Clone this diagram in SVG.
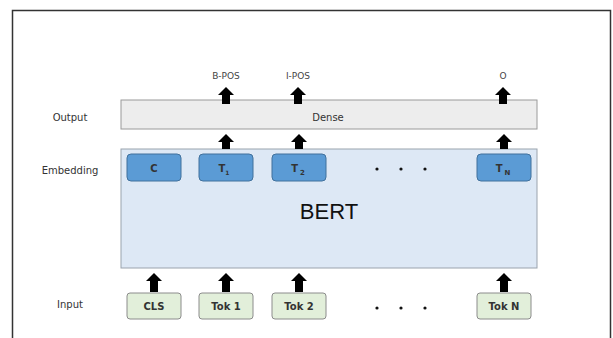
<svg xmlns="http://www.w3.org/2000/svg" width="613" height="338" viewBox="0 0 613 338">
<style>
.lbl{font-family:"DejaVu Sans","Noto Sans",sans-serif;font-size:10px;fill:#333;text-anchor:middle}
.sm{font-family:"DejaVu Sans","Noto Sans",sans-serif;font-size:9px;fill:#444;text-anchor:middle}
.emb{fill:#5b9bd5;stroke:#41719c;stroke-width:1}
.inp{fill:#e2efda;stroke:#8c8c8c;stroke-width:1}
.tk{font-family:"DejaVu Sans","Noto Sans",sans-serif;font-size:10px;fill:#333;text-anchor:middle;font-weight:bold}
.ar{fill:#000}
.dot{fill:#111}
</style>
<rect x="0" y="0" width="613" height="338" fill="#fff"/>
<rect x="12.5" y="10.5" width="598" height="340" fill="#fff" stroke="#333" stroke-width="1.5"/>
<g id="side-labels">
<text class="lbl" x="70" y="121">Output</text>
<text class="lbl" x="70" y="174">Embedding</text>
<text class="lbl" x="70" y="308">Input</text>
</g>
<g id="out-labels">
<text class="sm" x="226" y="79">B-POS</text>
<text class="sm" x="298" y="79">I-POS</text>
<text class="sm" x="503" y="79">O</text>
</g>
<g id="dense">
<rect x="121" y="100" width="416" height="29" fill="#ededed" stroke="#9a9a9a" stroke-width="1"/>
<text class="lbl" x="328" y="121">Dense</text>
</g>
<g id="bert">
<rect x="121" y="149" width="416" height="119" fill="#dde8f5" stroke="#9aa3ad" stroke-width="1"/>
<text x="329" y="219" font-family="Liberation Sans,Arial,sans-serif" font-size="22" fill="#111" text-anchor="middle">BERT</text>
</g>
<g id="emb-C"><rect class="emb" x="127" y="154" width="54" height="27" rx="4"/><text class="tk" x="154" y="172">C</text></g>
<g id="emb-T1"><rect class="emb" x="199" y="154" width="54" height="27" rx="4"/><text class="tk" x="224" y="172">T<tspan font-size="6" dy="3">1</tspan></text></g>
<g id="emb-T2"><rect class="emb" x="272" y="154" width="54" height="27" rx="4"/><text class="tk" x="298" y="172">T<tspan font-size="7" dy="3" dx="2">2</tspan></text></g>
<g id="emb-TN"><rect class="emb" x="477" y="154" width="54" height="27" rx="4"/><text class="tk" x="503" y="172">T<tspan font-size="7" dy="3" dx="2">N</tspan></text></g>
<g id="in-CLS"><rect class="inp" x="127" y="293" width="54" height="26" rx="3"/><text class="tk" x="154" y="310">CLS</text></g>
<g id="in-Tok1"><rect class="inp" x="199" y="293" width="54" height="26" rx="3"/><text class="tk" x="226" y="310">Tok 1</text></g>
<g id="in-Tok2"><rect class="inp" x="272" y="293" width="54" height="26" rx="3"/><text class="tk" x="299" y="310">Tok 2</text></g>
<g id="in-TokN"><rect class="inp" x="477" y="293" width="54" height="26" rx="3"/><text class="tk" x="504" y="310">Tok N</text></g>
<g id="dots">
<circle class="dot" cx="377" cy="169" r="1.6"/><circle class="dot" cx="401" cy="169" r="1.6"/><circle class="dot" cx="425" cy="169" r="1.6"/>
<circle class="dot" cx="377" cy="308" r="1.6"/><circle class="dot" cx="401" cy="308" r="1.6"/><circle class="dot" cx="425" cy="308" r="1.6"/>
</g>
<g id="connectors">
<path class="ar" d="M154 273 l8 8 h-4 v11 h-8 v-11 h-4 z"/>
<path class="ar" d="M226 273 l8 8 h-4 v11 h-8 v-11 h-4 z"/>
<path class="ar" d="M299 273 l8 8 h-4 v11 h-8 v-11 h-4 z"/>
<path class="ar" d="M504 273 l8 8 h-4 v11 h-8 v-11 h-4 z"/>
<path class="ar" d="M226 134 l8 8 h-4 v7 h-8 v-7 h-4 z"/>
<path class="ar" d="M299 134 l8 8 h-4 v7 h-8 v-7 h-4 z"/>
<path class="ar" d="M504 134 l8 8 h-4 v7 h-8 v-7 h-4 z"/>
<path class="ar" d="M226 87 l8 8 h-4 v9 h-8 v-9 h-4 z"/>
<path class="ar" d="M298 87 l8 8 h-4 v9 h-8 v-9 h-4 z"/>
<path class="ar" d="M503 87 l8 8 h-4 v9 h-8 v-9 h-4 z"/>
</g>
</svg>
